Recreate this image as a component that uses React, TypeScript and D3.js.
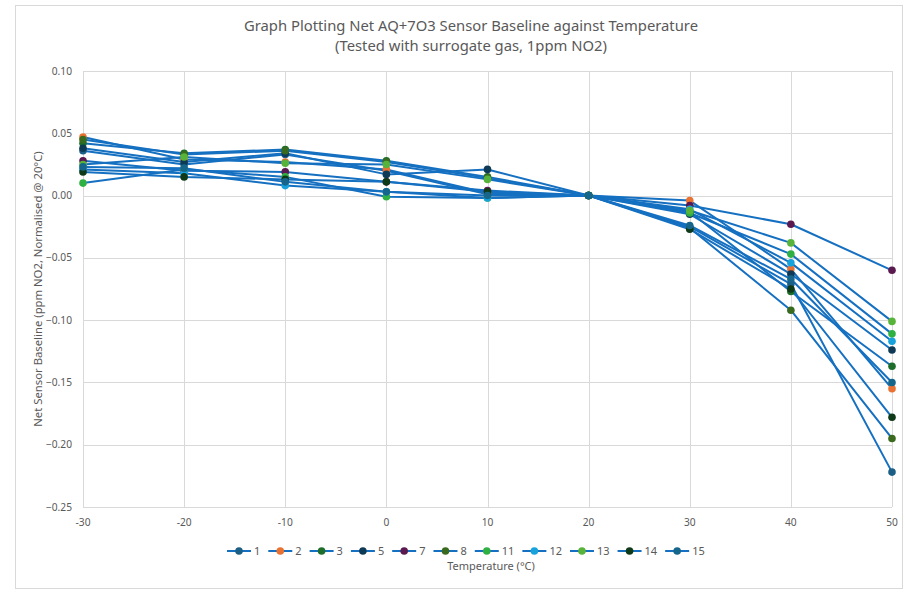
import { useEffect, useRef } from 'react';
import * as d3 from 'd3';

const temperatures = [-30, -20, -10, 0, 10, 20, 30, 40, 50];
const xTicks = [-30, -20, -10, 0, 10, 20, 30, 40, 50];
const yTicks = [0.1, 0.05, 0, -0.05, -0.1, -0.15, -0.2, -0.25];

const sensorNames = ['1', '2', '3', '5', '7', '8', '11', '12', '13', '14', '15'];
const markerColors = ['#1C5F86', '#E97132', '#1D6E2A', '#0E3A55', '#5B1A4F', '#3A6A1E', '#2FB043', '#17A2DC', '#58B33A', '#0F3A18', '#15668A'];

const sensor1 = [0.036, 0.025, 0.033, 0.02, 0.001, 0, -0.025, -0.071, -0.222];
const sensor2 = [0.047, 0.029, 0.027, 0.021, 0.002, 0, -0.004, -0.059, -0.155];
const sensor3 = [0.042, 0.034, 0.037, 0.028, 0.015, 0, -0.013, -0.077, -0.137];
const sensor5 = [0.038, 0.027, 0.034, 0.017, 0.021, 0, -0.015, -0.063, -0.124];
const sensor7 = [0.028, 0.02, 0.019, 0.011, 0.004, 0, -0.008, -0.023, -0.06];
const sensor8 = [0.045, 0.033, 0.036, 0.027, 0.014, 0, -0.026, -0.092, -0.195];
const sensor11 = [0.01, 0.021, 0.015, -0.001, -0.002, 0, -0.014, -0.047, -0.111];
const sensor12 = [0.021, 0.018, 0.008, 0.003, -0.002, 0, -0.011, -0.054, -0.117];
const sensor13 = [0.025, 0.031, 0.026, 0.025, 0.013, 0, -0.012, -0.038, -0.101];
const sensor14 = [0.019, 0.015, 0.013, 0.011, 0.003, 0, -0.027, -0.075, -0.178];
const sensor15 = [0.023, 0.022, 0.011, 0.003, 0.0, 0, -0.024, -0.067, -0.15];

const seriesValues = [sensor1, sensor2, sensor3, sensor5, sensor7, sensor8, sensor11, sensor12, sensor13, sensor14, sensor15];

type Point = { t: number; v: number };
type Series = { name: string; color: string; points: Point[] };

const LINE_COLOR = '#1570C1';
const TEXT_COLOR = '#595959';
const GRID_COLOR = '#D9D9D9';
const FONT = '"Noto Sans", "Open Sans", sans-serif';

export default function App() {
  const svgRef = useRef<SVGSVGElement | null>(null);

  useEffect(() => {
    const svgElement = svgRef.current;
    if (!svgElement) return;

    const width = 905;
    const height = 592;
    const plot = { left: 83, right: 892, top: 71, bottom: 507 };

    const svg = d3.select(svgElement);
    svg.selectAll('*').remove();
    svg.attr('width', width).attr('height', height).attr('viewBox', `0 0 ${width} ${height}`);

    svg.append('rect').attr('width', width).attr('height', height).attr('fill', '#ffffff');
    svg
      .append('rect')
      .attr('x', 15.5)
      .attr('y', 5.5)
      .attr('width', width - 18)
      .attr('height', height - 9)
      .attr('fill', 'none')
      .attr('stroke', GRID_COLOR)
      .attr('stroke-width', 1);

    const x = d3.scaleLinear().domain([-30, 50]).range([plot.left, plot.right]);
    const y = d3.scaleLinear().domain([-0.25, 0.1]).range([plot.bottom, plot.top]);

    const series: Series[] = sensorNames.map((name, i) => ({
      name,
      color: markerColors[i],
      points: temperatures.map((t, j) => ({ t, v: seriesValues[i][j] })),
    }));

    // gridlines
    const grid = svg.append('g');
    grid
      .selectAll('line.h')
      .data(yTicks)
      .join('line')
      .attr('class', 'h')
      .attr('x1', plot.left)
      .attr('x2', plot.right)
      .attr('y1', (d) => Math.round(y(d)) + 0.5)
      .attr('y2', (d) => Math.round(y(d)) + 0.5)
      .attr('stroke', GRID_COLOR);
    grid
      .selectAll('line.v')
      .data(xTicks)
      .join('line')
      .attr('class', 'v')
      .attr('y1', plot.top)
      .attr('y2', plot.bottom)
      .attr('x1', (d) => Math.round(x(d)) + 0.5)
      .attr('x2', (d) => Math.round(x(d)) + 0.5)
      .attr('stroke', GRID_COLOR);

    // tick labels
    svg
      .append('g')
      .selectAll('text')
      .data(yTicks)
      .join('text')
      .attr('x', plot.left - 11)
      .attr('y', (d) => y(d) + 3.5)
      .attr('text-anchor', 'end')
      .attr('font-family', FONT)
      .attr('font-size', 10.2)
      .attr('fill', TEXT_COLOR)
      .text((d) => d3.format('.2f')(d));
    svg
      .append('g')
      .selectAll('text')
      .data(xTicks)
      .join('text')
      .attr('x', (d) => x(d))
      .attr('y', plot.bottom + 19)
      .attr('text-anchor', 'middle')
      .attr('font-family', FONT)
      .attr('font-size', 10.2)
      .attr('fill', TEXT_COLOR)
      .text((d) => `${d}`);

    // series
    const line = d3
      .line<Point>()
      .x((d) => x(d.t))
      .y((d) => y(d.v));
    const seriesLayer = svg.append('g');
    seriesLayer
      .selectAll('path')
      .data(series)
      .join('path')
      .attr('fill', 'none')
      .attr('stroke', LINE_COLOR)
      .attr('stroke-width', 2)
      .attr('stroke-linejoin', 'round')
      .attr('d', (d) => line(d.points));
    seriesLayer
      .selectAll('g.markers')
      .data(series)
      .join('g')
      .attr('class', 'markers')
      .attr('fill', (d) => d.color)
      .selectAll('circle')
      .data((d) => d.points)
      .join('circle')
      .attr('cx', (d) => x(d.t))
      .attr('cy', (d) => y(d.v))
      .attr('r', 3.8);

    // title
    const title = svg
      .append('text')
      .attr('x', 471)
      .attr('text-anchor', 'middle')
      .attr('font-family', FONT)
      .attr('font-size', 14.8)
      .attr('fill', TEXT_COLOR);
    title.append('tspan').attr('x', 471).attr('y', 31).text('Graph Plotting Net AQ+7O3 Sensor Baseline against Temperature');
    title.append('tspan').attr('x', 471).attr('y', 51).text('(Tested with surrogate gas, 1ppm NO2)');

    // axis titles
    svg
      .append('text')
      .attr('transform', `translate(42,${(plot.top + plot.bottom) / 2}) rotate(-90)`)
      .attr('text-anchor', 'middle')
      .attr('font-family', FONT)
      .attr('font-size', 11.3)
      .attr('fill', TEXT_COLOR)
      .text('Net Sensor Baseline (ppm NO2, Normalised @ 20°C)');
    svg
      .append('text')
      .attr('x', 491)
      .attr('y', 570)
      .attr('text-anchor', 'middle')
      .attr('font-family', FONT)
      .attr('font-size', 11)
      .attr('fill', TEXT_COLOR)
      .text('Temperature (°C)');

    // legend
    const legend = svg.append('g').attr('transform', 'translate(227,551)');
    let offset = 0;
    series.forEach((s) => {
      const item = legend.append('g').attr('transform', `translate(${offset},0)`);
      item.append('line').attr('x1', 0).attr('x2', 24).attr('y1', 0).attr('y2', 0).attr('stroke', LINE_COLOR).attr('stroke-width', 2);
      item.append('circle').attr('cx', 12).attr('cy', 0).attr('r', 3.8).attr('fill', s.color);
      const label = item
        .append('text')
        .attr('x', 27)
        .attr('y', 4)
        .attr('font-family', FONT)
        .attr('font-size', 11)
        .attr('fill', TEXT_COLOR)
        .text(s.name);
      const tw = (label.node() as SVGTextElement).getComputedTextLength();
      offset += 27 + tw + 8;
    });
  }, []);

  return <svg ref={svgRef} style={{ position: 'absolute', left: 0, top: 0, display: 'block' }} />;
}
